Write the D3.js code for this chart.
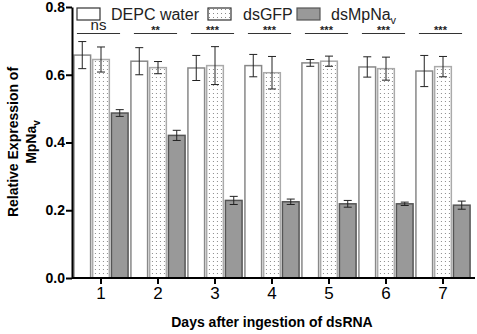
<!DOCTYPE html>
<html>
<head>
<meta charset="utf-8">
<script src="https://cdn.jsdelivr.net/npm/d3@7"></script>
<style>
  body { margin: 0; background: #fff; }
  text { font-family: "Liberation Sans", Arial, sans-serif; }
</style>
</head>
<body>
<div id="chart"></div>
<script>
const days = ["1", "2", "3", "4", "5", "6", "7"];
const seriesNames = ["DEPC water", "dsGFP", "dsMpNav"];
const depcMean = [0.658, 0.640, 0.620, 0.627, 0.635, 0.623, 0.611];
const depcErr = [0.040, 0.040, 0.037, 0.033, 0.010, 0.030, 0.046];
const gfpMean = [0.645, 0.621, 0.627, 0.606, 0.640, 0.618, 0.624];
const gfpErr = [0.037, 0.018, 0.056, 0.048, 0.015, 0.034, 0.030];
const naMean = [0.487, 0.421, 0.229, 0.225, 0.219, 0.219, 0.215];
const naErr = [0.010, 0.015, 0.012, 0.008, 0.010, 0.005, 0.012];
const signif = ["ns", "**", "***", "***", "***", "***", "***"];
const yTicks = [0.0, 0.2, 0.4, 0.6, 0.8];

const width = 477, height = 334;
const margin = {top: 7, right: 5, bottom: 56, left: 72};

const svg = d3.select("#chart").append("svg")
    .attr("width", width)
    .attr("height", height);

const defs = svg.append("defs");
const pat = defs.append("pattern")
    .attr("id", "dots")
    .attr("patternUnits", "userSpaceOnUse")
    .attr("width", 4)
    .attr("height", 4);
pat.append("rect").attr("width", 4).attr("height", 4).attr("fill", "#fff");
pat.append("rect").attr("x", 1).attr("y", 1).attr("width", 1).attr("height", 1).attr("fill", "#8a8a8a");

const rows = days.map((d, i) => ({
    day: d,
    values: [
        {key: seriesNames[0], mean: depcMean[i], err: depcErr[i]},
        {key: seriesNames[1], mean: gfpMean[i], err: gfpErr[i]},
        {key: seriesNames[2], mean: naMean[i], err: naErr[i]}
    ]
}));

const x0 = d3.scaleBand()
    .domain(days)
    .range([margin.left + 0.5, margin.left + 0.5 + 57 * 7])
    .paddingInner(0.05)
    .paddingOuter(0.025);

const x1 = d3.scaleBand()
    .domain(seriesNames)
    .range([0, x0.bandwidth()])
    .paddingInner(0.11);

const y = d3.scaleLinear()
    .domain([0, 0.8])
    .range([278, margin.top]);

const fills = {"DEPC water": "#fff", "dsGFP": "url(#dots)", "dsMpNav": "#999"};
const strokes = {"DEPC water": "#888", "dsGFP": "#aaa", "dsMpNav": "#555"};

// bars
const groups = svg.append("g").selectAll("g")
    .data(rows)
    .join("g")
    .attr("transform", d => `translate(${x0(d.day)},0)`);

groups.selectAll("rect")
    .data(d => d.values)
    .join("rect")
    .attr("x", d => x1(d.key))
    .attr("y", d => y(d.mean))
    .attr("width", x1.bandwidth())
    .attr("height", d => y(0) - y(d.mean))
    .attr("fill", d => fills[d.key])
    .attr("stroke", d => strokes[d.key])
    .attr("stroke-width", 1.5);

// error bars
const eb = groups.selectAll("g.err")
    .data(d => d.values)
    .join("g")
    .attr("class", "err")
    .attr("stroke", "#222")
    .attr("stroke-width", 1);

eb.append("line")
    .attr("x1", d => x1(d.key) + x1.bandwidth() / 2)
    .attr("x2", d => x1(d.key) + x1.bandwidth() / 2)
    .attr("y1", d => y(d.mean + d.err))
    .attr("y2", d => y(d.mean - d.err));
eb.append("line")
    .attr("x1", d => x1(d.key) + x1.bandwidth() / 2 - 4)
    .attr("x2", d => x1(d.key) + x1.bandwidth() / 2 + 4)
    .attr("y1", d => y(d.mean + d.err))
    .attr("y2", d => y(d.mean + d.err));
eb.append("line")
    .attr("x1", d => x1(d.key) + x1.bandwidth() / 2 - 4)
    .attr("x2", d => x1(d.key) + x1.bandwidth() / 2 + 4)
    .attr("y1", d => y(d.mean - d.err))
    .attr("y2", d => y(d.mean - d.err));

// significance
groups.append("line")
    .attr("x1", 3)
    .attr("x2", x0.bandwidth() - 8)
    .attr("y1", 33.5)
    .attr("y2", 33.5)
    .attr("stroke", "#333")
    .attr("stroke-width", 1);
groups.append("text")
    .attr("x", (x0.bandwidth() - 5) / 2)
    .attr("y", (d, i) => signif[i] === "ns" ? 30 : 34)
    .attr("text-anchor", "middle")
    .attr("font-size", (d, i) => signif[i] === "ns" ? 15 : 11)
    .attr("font-weight", (d, i) => signif[i] === "ns" ? "normal" : "bold")
    .attr("fill", "#222")
    .text((d, i) => signif[i]);

// axes
const yAxis = svg.append("g")
    .attr("transform", `translate(${margin.left},0)`)
    .call(d3.axisLeft(y).tickValues(yTicks).tickFormat(d3.format(".1f")).tickSize(6).tickSizeOuter(0).tickPadding(1));
yAxis.select(".domain").attr("stroke-width", 2);
yAxis.selectAll(".tick line").attr("stroke-width", 2);
yAxis.selectAll("text").attr("font-size", 14).attr("font-weight", "bold").attr("fill", "#000");

const xAxis = svg.append("g")
    .attr("transform", `translate(0,${y(0)})`)
    .call(d3.axisBottom(x0).tickSize(6).tickSizeOuter(0).tickPadding(3));
xAxis.select(".domain").attr("stroke-width", 2)
    .attr("d", `M${margin.left},0H${width - 2}`);
xAxis.selectAll(".tick line").attr("stroke-width", 2);
xAxis.selectAll("text").attr("font-size", 17).attr("fill", "#000");

// axis titles
svg.append("text")
    .attr("x", 272)
    .attr("y", 327)
    .attr("text-anchor", "middle")
    .attr("font-size", 14)
    .attr("font-weight", "bold")
    .text("Days after ingestion of dsRNA");

const yTitle = svg.append("text")
    .attr("transform", "translate(0,142) rotate(-90)")
    .attr("text-anchor", "middle")
    .attr("font-size", 14)
    .attr("font-weight", "bold");
yTitle.append("tspan").attr("x", 0).attr("y", 18).text("Relative Expression of");
yTitle.append("tspan").attr("x", 0).attr("y", 36).text("MpNa");
yTitle.append("tspan").attr("dy", 4).attr("font-size", 10).text("v");

// legend
const legendItems = [
    {key: "DEPC water", x: 77, tx: 111},
    {key: "dsGFP", x: 208, tx: 243},
    {key: "dsMpNav", x: 297, tx: 331}
];
const lg = svg.append("g").selectAll("g")
    .data(legendItems)
    .join("g");
lg.append("rect")
    .attr("x", d => d.x)
    .attr("y", 8)
    .attr("width", 23)
    .attr("height", 12)
    .attr("fill", d => fills[d.key])
    .attr("stroke", d => d.key === "dsMpNav" ? "#555" : "#333")
    .attr("stroke-width", 1.2);
const lt = lg.append("text")
    .attr("x", d => d.tx)
    .attr("y", 20)
    .attr("font-size", 16)
    .attr("fill", "#222");
lt.append("tspan").text(d => d.key === "dsMpNav" ? "dsMpNa" : d.key);
lt.filter(d => d.key === "dsMpNav").append("tspan")
    .attr("dy", 4).attr("font-size", 11).text("v");
</script>
</body>
</html>
